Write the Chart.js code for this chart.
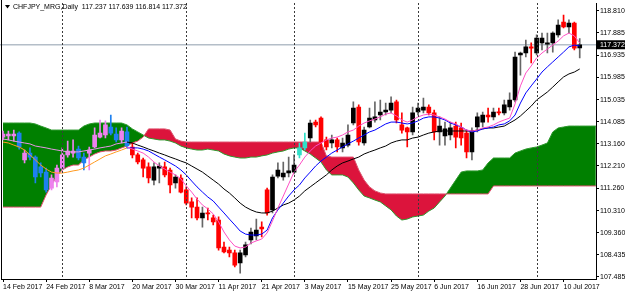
<!DOCTYPE html>
<html>
<head>
<meta charset="utf-8">
<script src="https://cdn.jsdelivr.net/npm/chart.js@4.4.1/dist/chart.umd.min.js"></script>
<style>
  html, body { margin: 0; padding: 0; background: #fff; }
  #wrap { width: 625px; height: 294px; position: relative; }
</style>
</head>
<body>
<div id="wrap"><canvas id="grafica"></canvas></div>
<script>
// === Datos (CHFJPY diario) ===
const symbolName = 'CHFJPY_MRG,Daily';
const xTickLabels = ['14 Feb 2017', '24 Feb 2017', '8 Mar 2017', '20 Mar 2017', '30 Mar 2017', '11 Apr 2017', '21 Apr 2017',
    '3 May 2017', '15 May 2017', '25 May 2017', '6 Jun 2017', '16 Jun 2017', '28 Jun 2017', '10 Jul 2017'];
const barsPerLabel = 8;
const yTickValues = [118.810, 117.885, 116.935, 115.985, 115.035, 114.085, 113.160, 112.210, 111.260, 110.310, 109.360, 108.435, 107.485];
const monthStartBars = [11, 34, 54, 77, 99];

const openP = [
    113.44, 113.49, 113.49, 113.61, 112.47, 112.76, 112.59, 112.17, 111.95, 111.27,
    111.53, 112.12, 112.68, 112.76, 112.93, 112.59, 112.76, 113.02, 113.44, 113.53,
    113.87, 113.57, 113.32, 113.66, 113.02, 112.68, 112.47, 112.17, 111.61, 112.12,
    112.17, 112.04, 111.49, 111.70, 111.19, 110.68, 110.46, 110.00, 110.21, 110.00,
    109.91, 108.76, 108.63, 108.51, 108.08, 108.42, 109.06, 109.23, 109.61, 111.19,
    110.34, 111.78, 111.74, 111.91, 111.95, 112.68, 112.98, 113.40, 114.08, 114.25,
    113.32, 113.19, 113.32, 112.98, 113.10, 114.04, 114.72, 113.19, 113.87, 114.17,
    114.38, 114.51, 114.59, 114.94, 113.96, 113.83, 113.66, 114.51, 114.59, 114.72,
    114.47, 113.66, 113.49, 113.53, 113.91, 113.83, 113.61, 112.81, 113.87, 114.08,
    114.38, 114.30, 114.51, 114.47, 114.72, 115.02, 116.94, 117.02, 117.28, 117.02,
    117.45, 117.40, 117.45, 117.79, 118.34, 118.13, 118.30, 117.237
];
const highP = [
    113.70, 113.70, 113.74, 113.66, 112.89, 112.98, 112.64, 112.34, 112.12, 111.83,
    112.25, 112.98, 113.27, 113.32, 113.06, 112.76, 113.02, 113.83, 114.17, 114.13,
    114.38, 113.83, 113.83, 113.87, 113.19, 112.76, 112.55, 112.34, 112.34, 112.34,
    112.38, 112.12, 111.83, 111.83, 111.32, 110.85, 110.85, 110.46, 110.42, 110.12,
    110.04, 108.97, 108.76, 108.63, 108.63, 108.97, 109.57, 109.95, 109.83, 111.27,
    111.83, 112.34, 112.38, 112.59, 112.68, 113.19, 113.61, 114.17, 114.17, 114.30,
    113.44, 113.53, 113.40, 113.40, 113.96, 114.94, 114.81, 113.87, 114.68, 114.94,
    115.02, 114.89, 115.15, 115.02, 114.47, 113.87, 114.72, 114.89, 115.10, 114.81,
    114.59, 114.30, 114.08, 114.08, 114.08, 114.04, 113.74, 113.83, 114.47, 114.51,
    114.68, 114.68, 114.68, 115.02, 115.32, 117.06, 117.06, 117.57, 117.45, 117.79,
    117.87, 117.87, 117.92, 118.43, 118.64, 118.43, 118.34, 117.639
];
const lowP = [
    113.32, 113.32, 113.27, 112.93, 112.34, 112.47, 111.49, 111.74, 111.10, 111.19,
    111.32, 112.04, 112.59, 112.59, 112.47, 112.04, 112.04, 112.98, 113.40, 113.40,
    113.53, 113.23, 113.19, 112.98, 112.55, 112.30, 111.74, 111.49, 111.40, 111.49,
    111.74, 111.06, 111.27, 111.06, 110.55, 110.00, 109.91, 109.61, 109.91, 109.70,
    108.63, 108.51, 108.34, 107.91, 107.65, 108.34, 108.89, 109.06, 109.19, 110.12,
    110.21, 111.70, 111.61, 111.74, 111.87, 112.55, 112.89, 113.23, 113.87, 112.89,
    112.89, 112.98, 112.81, 112.81, 113.02, 113.96, 113.10, 113.10, 113.83, 114.08,
    114.17, 114.38, 114.47, 114.04, 113.61, 113.02, 113.53, 114.38, 114.47, 114.38,
    113.32, 113.10, 113.10, 113.32, 112.98, 113.10, 112.55, 112.47, 113.66, 113.87,
    114.08, 114.17, 114.38, 114.38, 114.59, 114.94, 116.08, 116.85, 116.60, 116.94,
    117.15, 117.02, 117.06, 117.70, 118.09, 117.87, 117.15, 116.814
];
const closeP = [
    113.57, 113.57, 113.57, 113.02, 112.76, 112.59, 111.74, 111.91, 111.19, 111.70,
    112.12, 112.68, 112.85, 112.85, 112.55, 112.34, 112.89, 113.53, 113.61, 113.96,
    113.61, 113.32, 113.70, 113.06, 112.68, 112.38, 112.12, 111.70, 112.17, 112.21,
    111.83, 111.40, 111.74, 111.10, 110.63, 110.46, 110.00, 110.21, 110.17, 109.83,
    108.72, 108.55, 108.51, 107.99, 108.51, 108.85, 109.40, 109.48, 109.53, 110.21,
    111.74, 112.04, 111.91, 112.00, 112.25, 112.98, 113.23, 114.04, 113.96, 113.23,
    113.02, 113.32, 113.02, 113.19, 113.53, 114.68, 113.23, 113.74, 114.25, 114.30,
    114.51, 114.59, 114.89, 114.17, 113.74, 113.66, 114.47, 114.68, 114.72, 114.47,
    113.66, 113.91, 113.79, 113.83, 113.44, 113.40, 112.81, 113.66, 114.30, 114.38,
    114.30, 114.51, 114.47, 114.81, 115.02, 116.85, 117.02, 117.28, 117.23, 117.66,
    117.66, 117.45, 117.87, 118.21, 118.13, 118.30, 117.23, 117.372
];

// Ichimoku: Senkou Span A / B (desplazadas hacia adelante)
const spanA = [
    114.04, 114.04, 114.04, 114.04, 114.04, 114.04, 114.00, 113.91, 113.83, 113.74,
    113.74, 113.74, 113.74, 113.74, 113.74, 113.91, 114.00, 114.04, 114.04, 114.04,
    114.04, 114.04, 114.04, 113.96, 113.79, 113.66, 113.53, 113.40, 113.36, 113.32,
    113.32, 113.27, 113.19, 113.06, 112.98, 112.93, 112.89, 112.89, 112.93, 112.89,
    112.85, 112.72, 112.64, 112.59, 112.55, 112.55, 112.59, 112.59, 112.64, 112.68,
    112.76, 112.81, 112.85, 112.93, 112.98, 112.98, 112.85, 112.72, 112.55, 112.38,
    112.04, 111.83, 111.83, 111.83, 111.74, 111.49, 111.19, 110.93, 110.85, 110.76,
    110.68, 110.51, 110.34, 110.08, 109.91, 109.95, 110.04, 110.08, 110.12, 110.29,
    110.42, 110.68, 110.93, 111.27, 111.61, 111.95, 112.00, 112.00, 112.00, 112.04,
    112.34, 112.55, 112.55, 112.55, 112.55, 112.76, 112.85, 112.93, 112.98, 113.02,
    113.10, 113.19, 113.66, 113.83, 113.87, 113.91, 113.91, 113.91, 113.91, 113.91, 113.91
];
const spanB = [
    110.46, 110.46, 110.46, 110.46, 110.46, 110.46, 110.46, 110.46, 110.98, 111.40,
    111.78, 112.04, 112.17, 112.25, 112.25, 112.47, 112.59, 112.72, 112.81, 112.85,
    112.85, 112.89, 112.98, 113.06, 113.19, 113.27, 113.44, 113.79, 113.79, 113.79,
    113.79, 113.74, 113.36, 113.27, 113.23, 113.23, 113.23, 113.23, 113.23, 113.23,
    113.23, 113.23, 113.23, 113.23, 113.23, 113.23, 113.23, 113.23, 113.23, 113.23,
    113.23, 113.23, 113.23, 113.23, 113.23, 113.23, 113.23, 113.23, 113.23, 113.23,
    112.64, 112.59, 112.59, 112.59, 112.59, 112.59, 112.04, 111.61, 111.32, 111.15,
    111.06, 111.02, 111.02, 111.02, 111.02, 111.02, 111.02, 111.02, 111.02, 111.02,
    111.02, 111.02, 111.02, 111.02, 111.02, 111.02, 111.02, 111.02, 111.02, 111.02,
    111.02, 111.36, 111.36, 111.36, 111.36, 111.36, 111.36, 111.36, 111.36, 111.36,
    111.36, 111.36, 111.36, 111.36, 111.36, 111.36, 111.36, 111.36, 111.36, 111.36, 111.36
];

// Medias móviles (rápida rosa, media azul, lenta negra)
const maFastStart = 23;
const maFast = [
    113.02, 112.93, 112.85, 112.76, 112.59, 112.38, 112.21,
    112.08, 111.95, 111.83, 111.66, 111.36, 111.10, 110.80, 110.55, 110.38, 110.17,
    109.83, 109.40, 109.06, 108.80, 108.72, 108.76, 108.93, 109.02, 109.10, 109.36,
    109.87, 110.42, 110.93, 111.44, 111.95, 112.25, 112.59, 112.85, 113.06, 113.19,
    113.32, 113.40, 113.44, 113.53, 113.66, 113.74, 113.91, 114.04, 114.13, 114.21,
    114.30, 114.42, 114.47, 114.34, 114.17, 114.08, 114.17, 114.30, 114.38, 114.42,
    114.38, 114.30, 114.21, 114.08, 114.00, 113.87, 113.74, 113.70, 113.74, 113.83,
    113.87, 113.96, 114.08, 114.17, 114.25, 114.85, 115.62, 116.17, 116.47, 116.81,
    117.02, 117.19, 117.36, 117.53, 117.75, 117.87, 117.75, 117.45
];
const maMid = [
    113.23, 113.19, 113.10, 113.02, 112.89, 112.68, 112.47, 112.25, 112.08, 111.95,
    111.91, 111.91, 111.95, 112.00, 112.04, 112.12, 112.25, 112.38, 112.51, 112.64,
    112.72, 112.81, 112.89, 112.98, 112.98, 112.98, 112.93, 112.85, 112.72, 112.59,
    112.47, 112.34, 112.21, 112.04, 111.83, 111.57, 111.32, 111.10, 110.89, 110.72,
    110.46, 110.21, 109.95, 109.70, 109.44, 109.31, 109.27, 109.27, 109.31, 109.48,
    110.00, 110.34, 110.63, 110.93, 111.19, 111.40, 111.70, 111.95, 112.21, 112.42,
    112.59, 112.76, 112.89, 113.02, 113.15, 113.27, 113.40, 113.53, 113.66, 113.74,
    113.87, 114.00, 114.08, 114.08, 114.04, 114.00, 114.04, 114.13, 114.25, 114.30,
    114.30, 114.25, 114.17, 114.04, 113.96, 113.87, 113.74, 113.66, 113.70, 113.79,
    113.83, 113.87, 113.96, 114.00, 114.13, 114.38, 114.89, 115.32, 115.62, 115.91,
    116.21, 116.43, 116.64, 116.85, 117.06, 117.28, 117.36, 117.32
];
const maSlow = [
    113.36, 113.32, 113.27, 113.23, 113.19, 113.15, 113.06, 113.02, 112.98, 112.93,
    112.89, 112.85, 112.81, 112.81, 112.81, 112.85, 112.89, 112.93, 112.98, 113.02,
    113.06, 113.15, 113.19, 113.23, 113.19, 113.10, 113.02, 112.93, 112.85, 112.76,
    112.68, 112.59, 112.51, 112.42, 112.34, 112.21, 112.08, 111.95, 111.78, 111.61,
    111.44, 111.23, 111.06, 110.85, 110.63, 110.46, 110.34, 110.25, 110.21, 110.21,
    110.29, 110.42, 110.55, 110.63, 110.76, 110.93, 111.15, 111.32, 111.49, 111.66,
    111.83, 112.04, 112.21, 112.34, 112.42, 112.51, 112.59, 112.72, 112.81, 112.89,
    112.98, 113.06, 113.19, 113.27, 113.32, 113.32, 113.40, 113.44, 113.53, 113.61,
    113.66, 113.70, 113.70, 113.70, 113.70, 113.70, 113.70, 113.70, 113.74, 113.79,
    113.83, 113.83, 113.87, 113.91, 114.04, 114.17, 114.34, 114.55, 114.76, 115.02,
    115.19, 115.36, 115.57, 115.79, 116.00, 116.13, 116.21, 116.34
];

// === Estilo ===
const fontFam = '"Liberation Sans Narrow", "Liberation Sans", Arial, sans-serif';
const cloudZoneEnd = 23;      // velas dentro de la nube verde (colores invertidos)
const tealBars = [55, 56];    // velas dentro de la nube roja

function candleColor(i, part) {
    const up = closeP[i] >= openP[i];
    if (i <= cloudZoneEnd) return up ? '#ee82ee' : '#1e80f0';
    if (tealBars.includes(i)) return '#30e0c8';
    if (part === 'wick') return up ? '#666666' : '#ff0000';
    return up ? '#000000' : '#ff0000';
}

const bars = closeP.map((_, i) => i);
const lastClose = closeP[closeP.length - 1];

const decor = {
    id: 'decor',
    beforeDatasetsDraw(chart) {
        const { ctx, chartArea, scales: { y } } = chart;
        const yb = y.getPixelForValue(lastClose);
        ctx.save();
        ctx.strokeStyle = '#b4bec8';
        ctx.lineWidth = 1.5;
        ctx.beginPath();
        ctx.moveTo(0, yb);
        ctx.lineTo(chartArea.right, yb);
        ctx.stroke();
        ctx.restore();
    },
    afterDatasetsDraw(chart) {
        const { ctx, chartArea, scales: { x } } = chart;
        ctx.save();
        ctx.strokeStyle = '#3a3a3a';
        ctx.lineWidth = 1;
        ctx.setLineDash([2, 2]);
        monthStartBars.forEach(b => {
            const px = Math.round(x.getPixelForValue(b)) + 0.5;
            ctx.beginPath();
            ctx.moveTo(px, chartArea.top);
            ctx.lineTo(px, chartArea.bottom);
            ctx.stroke();
        });
        ctx.restore();
    },
    afterDraw(chart) {
        const { ctx, chartArea, scales: { y } } = chart;
        ctx.save();
        // borde izquierdo
        ctx.strokeStyle = '#000';
        ctx.lineWidth = 1;
        ctx.beginPath();
        ctx.moveTo(chartArea.left, 0);
        ctx.lineTo(chartArea.left, chartArea.bottom);
        ctx.stroke();

        // título
        ctx.fillStyle = '#000';
        ctx.beginPath();
        ctx.moveTo(5, 5); ctx.lineTo(10, 5); ctx.lineTo(7.5, 8.5); ctx.closePath();
        ctx.fill();
        ctx.font = '7px ' + fontFam;
        ctx.textBaseline = 'middle';
        const last = closeP.length - 1;
        const txt = symbolName + '  ' + [openP[last], highP[last], lowP[last], closeP[last]].map(v => v.toFixed(3)).join(' ');
        ctx.fillText(txt, 13, 7);

        // etiqueta del precio actual
        const yb = y.getPixelForValue(lastClose);
        ctx.fillStyle = '#000';
        ctx.fillRect(chartArea.right + 1, yb - 4.5, 28, 9);
        ctx.fillStyle = '#fff';
        ctx.fillText(lastClose.toFixed(3), chartArea.right + 4, yb + 0.5);
        ctx.restore();
    }
};

const ctxChart = document.getElementById('grafica').getContext('2d');

new Chart(ctxChart, {
    type: 'bar',
    data: {
        datasets: [
            {
                type: 'line',
                label: 'Senkou A',
                data: spanA.map((v, i) => ({ x: i, y: v })),
                borderColor: '#2e9a2e',
                borderWidth: 1,
                pointRadius: 0,
                tension: 0,
                fill: { target: '+1', above: '#008000', below: '#dc143c' },
                order: 10
            },
            {
                type: 'line',
                label: 'Senkou B',
                data: spanB.map((v, i) => ({ x: i, y: v })),
                borderColor: '#e0506e',
                borderWidth: 1,
                pointRadius: 0,
                tension: 0,
                fill: false,
                order: 9
            },
            {
                label: 'Mechas',
                data: bars.map(i => ({ x: i, y: [lowP[i], highP[i]] })),
                backgroundColor: bars.map(i => candleColor(i, 'wick')),
                barThickness: 1,
                grouped: false,
                order: 4
            },
            {
                label: 'Cuerpos',
                data: bars.map(i => ({ x: i, y: [openP[i], closeP[i]] })),
                backgroundColor: bars.map(i => candleColor(i, 'body')),
                barThickness: 4,
                minBarLength: 1,
                grouped: false,
                order: 3
            },
            {
                type: 'line',
                label: 'MA lenta',
                data: maSlow.map((v, i) => ({ x: i, y: v })),
                borderColor: '#000',
                segment: { borderColor: c => c.p1DataIndex <= cloudZoneEnd ? '#e596e5' : '#000' },
                borderWidth: 1,
                pointRadius: 0,
                tension: 0,
                fill: false,
                order: 2
            },
            {
                type: 'line',
                label: 'MA media',
                data: maMid.map((v, i) => ({ x: i, y: v })),
                borderColor: '#0000ff',
                segment: { borderColor: c => c.p1DataIndex <= cloudZoneEnd ? '#ff9a20' : '#0000ff' },
                borderWidth: 1,
                pointRadius: 0,
                tension: 0,
                fill: false,
                order: 1
            },
            {
                type: 'line',
                label: 'MA rápida',
                data: maFast.map((v, k) => ({ x: k + maFastStart, y: v })),
                borderColor: '#ff4fc4',
                borderWidth: 1,
                pointRadius: 0,
                tension: 0,
                fill: false,
                order: 0
            }
        ]
    },
    plugins: [decor],
    options: {
        responsive: true,
        maintainAspectRatio: false,
        animation: false,
        events: [],
        layout: { padding: { top: 3, left: 1.5, right: 0, bottom: 0 } },
        plugins: {
            legend: { display: false },
            tooltip: { enabled: false }
        },
        scales: {
            x: {
                type: 'linear',
                min: -0.28,
                max: 110.02,
                offset: false,
                afterBuildTicks: s => { s.ticks = xTickLabels.map((_, k) => ({ value: k * barsPerLabel })); },
                afterFit: s => { s.height = 15; s.paddingLeft = 0; s.paddingRight = 0; },
                ticks: {
                    callback: (v, k) => xTickLabels[k],
                    align: 'start',
                    autoSkip: false,
                    maxRotation: 0,
                    padding: 1,
                    color: '#000',
                    font: { family: fontFam, size: 7 }
                },
                grid: { drawOnChartArea: false, tickLength: 3, color: '#000', offset: false },
                border: { display: true, color: '#000', width: 1 }
            },
            y: {
                position: 'right',
                min: 107.398,
                max: 119.150,
                afterBuildTicks: s => { s.ticks = yTickValues.map(v => ({ value: v })); },
                afterFit: s => { s.width = 29; s.paddingTop = 0; s.paddingBottom = 0; },
                ticks: {
                    callback: v => Number(v).toFixed(3),
                    padding: 1,
                    color: '#000',
                    font: { family: fontFam, size: 7 }
                },
                grid: { drawOnChartArea: false, tickLength: 3, color: '#000' },
                border: { display: true, color: '#000', width: 1 }
            }
        }
    }
});
</script>
</body>
</html>
